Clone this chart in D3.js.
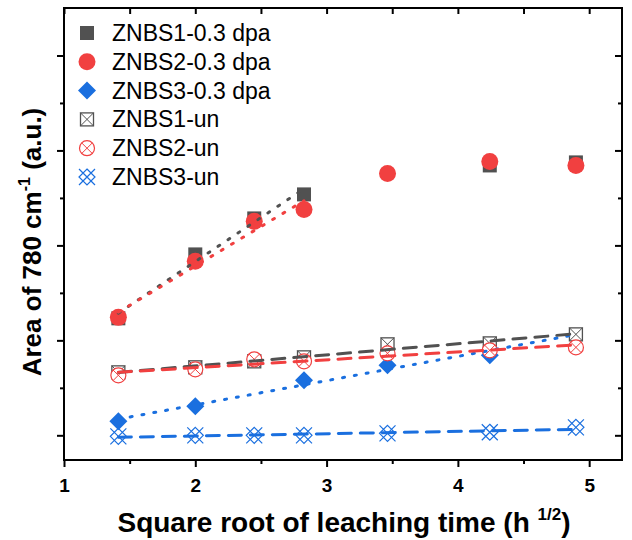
<!DOCTYPE html>
<html>
<head>
<meta charset="utf-8">
<script src="https://cdn.jsdelivr.net/npm/d3@7"></script>
<style>
  body { margin: 0; background: #fff; }
  svg text { font-family: Arial, "Liberation Sans", sans-serif; }
</style>
</head>
<body>
<div id="chart"></div>
<script>
// sqrt of leaching time (h^1/2)
var xAll = [1.414, 2, 2.449, 2.828, 3.464, 4.243, 4.899];

var xS1dpa = [1.414, 2, 2.449, 2.828, 4.243, 4.899];
var yS1dpa = [1.232, 1.905, 2.284, 2.537, 2.842, 2.874];
var xS2dpa = xAll;
var yS2dpa = [1.242, 1.832, 2.253, 2.379, 2.758, 2.884, 2.842];
var xS3dpa = [1.414, 2, 2.828, 3.464, 4.243];
var yS3dpa = [0.147, 0.305, 0.579, 0.737, 0.842];
var yS1un = [0.663, 0.716, 0.779, 0.821, 0.958, 0.968, 1.063];
var yS2un = [0.632, 0.695, 0.800, 0.779, 0.863, 0.895, 0.926];
var yS3un = [-0.011, 0, 0, 0, 0.021, 0.032, 0.084];

// range of x used for each linear fit
var fitS1dpa = [1.414, 2.828];
var fitS2dpa = [1.414, 2.828];
var fitS3dpa = [1.414, 4.899];
var fitUn = [1.414, 4.899];

var legendNames = ["ZNBS1-0.3 dpa", "ZNBS2-0.3 dpa", "ZNBS3-0.3 dpa",
                   "ZNBS1-un", "ZNBS2-un", "ZNBS3-un"];
var xTicks = [1, 2, 3, 4, 5];
var xMinor = [1.5, 2.5, 3.5, 4.5];
var yTicks = [0, 1, 2, 3, 4];
var yMinor = [0.5, 1.5, 2.5, 3.5];

var gray = "#515151", red = "#F14040", blue = "#1A6FDF";

var series = [
    {name: legendNames[0], x: xS1dpa, y: yS1dpa, color: gray, marker: "square", fit: fitS1dpa, dash: "dot"},
    {name: legendNames[1], x: xS2dpa, y: yS2dpa, color: red,  marker: "circle", fit: fitS2dpa, dash: "dot"},
    {name: legendNames[2], x: xS3dpa, y: yS3dpa, color: blue, marker: "diamond", fit: fitS3dpa, dash: "dot"},
    {name: legendNames[3], x: xAll, y: yS1un, color: gray, marker: "boxx", fit: fitUn, dash: "dash"},
    {name: legendNames[4], x: xAll, y: yS2un, color: red,  marker: "circlex", fit: fitUn, dash: "dash"},
    {name: legendNames[5], x: xAll, y: yS3un, color: blue, marker: "lattice", fit: fitUn, dash: "dash"}
];

var width = 632, height = 540;
var plot = {left: 64, right: 622, top: 8, bottom: 460};

var svg = d3.select('#chart').append('svg')
    .attr('width', width)
    .attr('height', height);

var xScale = d3.scaleLinear().domain([1, 5.25]).range([plot.left, plot.right]);
var yScale = d3.scaleLinear().domain([-0.26, 4.5]).range([plot.bottom, plot.top]);

function drawMarker(g, type, color) {
    if (type == "square") {
        g.append("rect").attr("x", -7).attr("y", -7).attr("width", 14).attr("height", 14)
            .attr("fill", color);
    } else if (type == "circle") {
        g.append("circle").attr("r", 8.5).attr("fill", color);
    } else if (type == "diamond") {
        g.append("path").attr("d", "M0,-9L9,0L0,9L-9,0Z").attr("fill", color);
    } else if (type == "boxx") {
        g.append("rect").attr("x", -6.5).attr("y", -6.5).attr("width", 13).attr("height", 13)
            .attr("fill", "white").attr("stroke", color).attr("stroke-width", 1.3);
        g.append("path").attr("d", "M-6.5,-6.5L6.5,6.5M-6.5,6.5L6.5,-6.5")
            .attr("stroke", color).attr("stroke-width", 1);
    } else if (type == "circlex") {
        g.append("circle").attr("r", 7.5).attr("fill", "white")
            .attr("stroke", color).attr("stroke-width", 1.2);
        g.append("path").attr("d", "M-5.3,-5.3L5.3,5.3M-5.3,5.3L5.3,-5.3")
            .attr("stroke", color).attr("stroke-width", 1);
    } else if (type == "lattice") {
        g.append("path").attr("d", "M0,-8L8,0L0,8L-8,0ZM-8,-8L8,8M-8,8L8,-8")
            .attr("fill", "none").attr("stroke", color).attr("stroke-width", 1.2);
    }
}

// least squares line through the points inside the fit range
function fitLine(s) {
    var xs = [], ys = [];
    s.x.forEach(function(x, i) {
        if (x >= s.fit[0] && x <= s.fit[1]) { xs.push(x); ys.push(s.y[i]); }
    });
    var mx = d3.mean(xs), my = d3.mean(ys);
    var sxy = d3.sum(xs, function(d, i) { return (d - mx) * (ys[i] - my); });
    var sxx = d3.sum(xs, function(d) { return (d - mx) * (d - mx); });
    var k = sxy / sxx;
    return s.fit.map(function(x) { return [x, my + k * (x - mx)]; });
}

// markers
series.forEach(function(s) {
    var g = svg.append("g");
    s.x.forEach(function(x, i) {
        var m = g.append("g").attr("transform", "translate(" + xScale(x) + "," + yScale(s.y[i]) + ")");
        drawMarker(m, s.marker, s.color);
    });
});

// fit lines
var line = d3.line()
    .x(function(d) { return xScale(d[0]); })
    .y(function(d) { return yScale(d[1]); });

series.forEach(function(s) {
    svg.append("path")
        .attr("d", line(fitLine(s)))
        .attr("fill", "none")
        .attr("stroke", s.color)
        .attr("stroke-width", 3)
        .attr("stroke-linecap", "round")
        .attr("stroke-dasharray", s.dash == "dot" ? "2,10" : "13,9");
});

// axes
function styleAxis(g) {
    g.selectAll("path, line").attr("stroke", "black").attr("stroke-width", 2);
    g.selectAll(".domain").remove();
}

svg.append("g")
    .attr("transform", "translate(0," + plot.bottom + ")")
    .call(d3.axisBottom(xScale).tickValues(xTicks).tickSize(7).tickPadding(12).tickFormat(d3.format("d")))
    .call(styleAxis)
    .selectAll("text")
        .attr("font-size", 19).attr("font-weight", "bold").attr("fill", "black")
        .attr("font-family", "Arial, 'Liberation Sans', sans-serif");
svg.append("g")
    .attr("transform", "translate(0," + plot.bottom + ")")
    .call(d3.axisBottom(xScale).tickValues(xMinor).tickSize(4).tickFormat(""))
    .call(styleAxis);
svg.append("g")
    .attr("transform", "translate(0," + plot.top + ")")
    .call(d3.axisBottom(xScale).tickValues(xTicks.concat(xMinor)).tickSize(6).tickFormat(""))
    .call(styleAxis);

svg.append("g")
    .attr("transform", "translate(" + plot.left + ",0)")
    .call(d3.axisLeft(yScale).tickValues(yTicks).tickSize(7).tickFormat(""))
    .call(styleAxis);
svg.append("g")
    .attr("transform", "translate(" + plot.left + ",0)")
    .call(d3.axisLeft(yScale).tickValues(yMinor).tickSize(4).tickFormat(""))
    .call(styleAxis);
svg.append("g")
    .attr("transform", "translate(" + plot.right + ",0)")
    .call(d3.axisLeft(yScale).tickValues(yTicks).tickSize(7).tickFormat(""))
    .call(styleAxis);
svg.append("g")
    .attr("transform", "translate(" + plot.right + ",0)")
    .call(d3.axisLeft(yScale).tickValues(yMinor).tickSize(4).tickFormat(""))
    .call(styleAxis);

// frame
svg.append("rect")
    .attr("x", plot.left).attr("y", plot.top)
    .attr("width", plot.right - plot.left).attr("height", plot.bottom - plot.top)
    .attr("fill", "none").attr("stroke", "black").attr("stroke-width", 2);

// axis titles
var xt = svg.append("text")
    .attr("x", 344).attr("y", 532)
    .attr("text-anchor", "middle")
    .attr("font-size", 28).attr("font-weight", "bold");
xt.append("tspan").text("Square root of leaching time (h ");
xt.append("tspan").attr("font-size", 17).attr("dy", -12).text("1/2");
xt.append("tspan").attr("dy", 12).text(")");

var yt = svg.append("text")
    .attr("transform", "translate(41,242) rotate(-90)")
    .attr("text-anchor", "middle")
    .attr("font-size", 26).attr("font-weight", "bold");
yt.append("tspan").text("Area of 780 cm");
yt.append("tspan").attr("font-size", 16).attr("dy", -11).text("-1");
yt.append("tspan").attr("dy", 11).text(" (a.u.)");

// legend
var legend = svg.append("g");
series.forEach(function(s, i) {
    var y = 33 + i * 28.8;
    var m = legend.append("g").attr("transform", "translate(87," + y + ")");
    drawMarker(m, s.marker, s.color);
    legend.append("text")
        .attr("x", 112).attr("y", y + 8)
        .attr("font-size", 23)
        .text(s.name);
});
</script>
</body>
</html>
